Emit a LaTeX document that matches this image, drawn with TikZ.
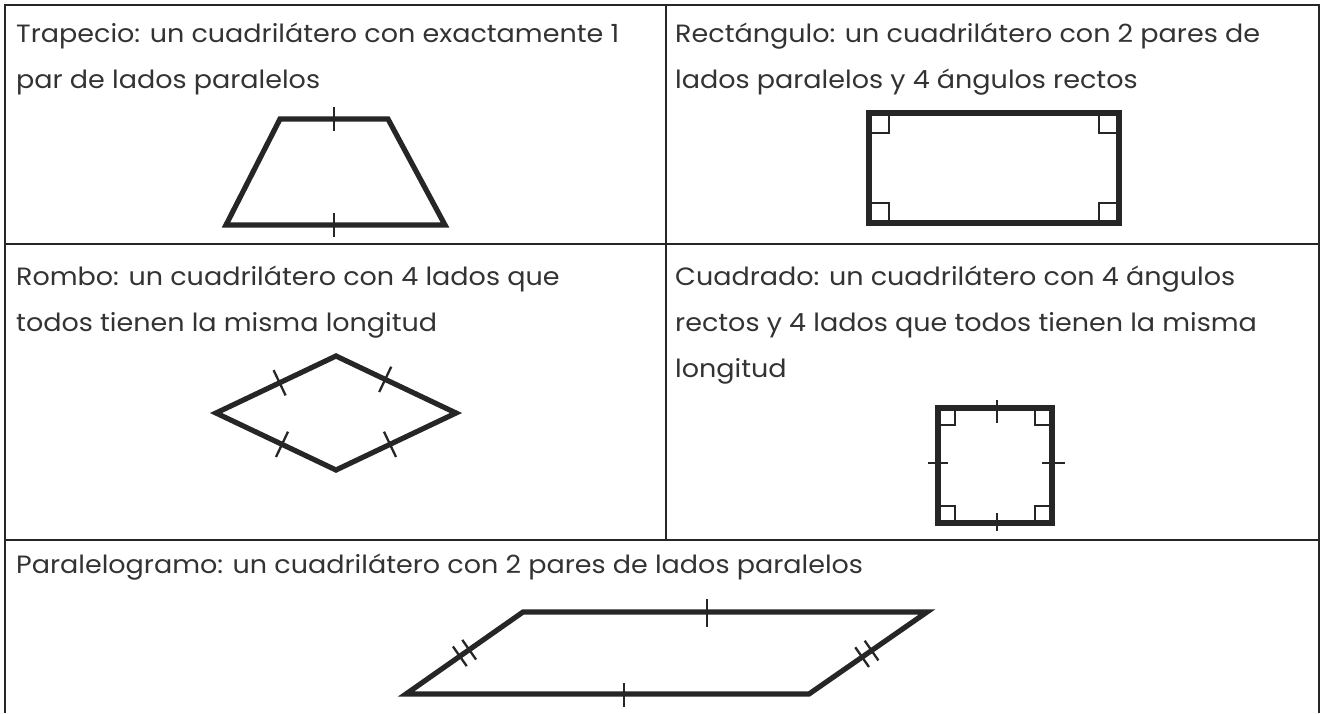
\documentclass[tikz,border=0pt]{standalone}
\usepackage{fontspec}
\setmainfont{Poppins}[FakeStretch=1.08]
\usetikzlibrary{calc}
\definecolor{ink}{HTML}{262626}
\definecolor{txt}{HTML}{333333}
\begin{document}
\begin{tikzpicture}[x=1pt,y=-1pt,
  gridline/.style={draw=ink,line width=2.2pt},
  fig/.style={draw=ink,line width=5.2pt,line join=miter},
  tick/.style={draw=ink,line width=2.3pt},
  rmark/.style={draw=ink,line width=2.8pt},
  lbl/.style={anchor=base west,inner sep=0pt,text=txt,font=\fontsize{25}{30}\selectfont}]
\useasboundingbox (0,0) rectangle (1322,713);
\fill[white] (0,0) rectangle (1322,713);
% table
\draw[gridline] (5,713) -- (5,5) -- (1319,5) -- (1319,713);
\draw[gridline] (5,244) -- (1319,244);
\draw[gridline] (5,540) -- (1319,540);
\draw[gridline] (666,5) -- (666,540);
% texts
\node[lbl] (t1a) at (16,42) {Trapecio: un cuadrilátero con exactamente 1};
\node[lbl] (t1b) at (16,88) {par de lados paralelos};
\node[lbl] (t2a) at (675,42) {Rectángulo: un cuadrilátero con 2 pares de};
\node[lbl] (t2b) at (675,88) {lados paralelos y 4 ángulos rectos};
\node[lbl] (t3a) at (16,285) {Rombo: un cuadrilátero con 4 lados que};
\node[lbl] (t3b) at (16,331) {todos tienen la misma longitud};
\node[lbl] (t4a) at (675,285) {Cuadrado: un cuadrilátero con 4 ángulos};
\node[lbl] (t4b) at (675,331) {rectos y 4 lados que todos tienen la misma};
\node[lbl] (t4c) at (675,377) {longitud};
\node[lbl] (t5) at (16,573) {Paralelogramo: un cuadrilátero con 2 pares de lados paralelos};
% trapezoid
\coordinate (tz1) at (226,225);
\coordinate (tz2) at (445,225);
\coordinate (tz3) at (388,119);
\coordinate (tz4) at (280,119);
\draw[fig] (tz1) -- (tz2) -- (tz3) -- (tz4) -- cycle;
\draw[tick] (334,107) -- (334,131);
\draw[tick] (334,213) -- (334,237);
% rectangle
\coordinate (rc1) at (869,113);
\coordinate (rc2) at (1119,223);
\draw[fig] (rc1) rectangle (rc2);
\draw[rmark] (869,133) -| (889,113);
\draw[rmark] (1119,133) -| (1099,113);
\draw[rmark] (869,203) -| (889,223);
\draw[rmark] (1119,203) -| (1099,223);
% rhombus
\coordinate (r1) at (216,413);
\coordinate (r2) at (336,356);
\coordinate (r3) at (456,413);
\coordinate (r4) at (336,470);
\draw[fig] (r1) -- (r2) -- (r3) -- (r4) -- cycle;
\foreach \a/\b/\t in {r1/r2/0.53, r2/r3/0.41, r4/r1/0.45, r3/r4/0.55}{
  \path ($(\a)!\t!(\b)$) coordinate (m);
  \draw[tick] ($(m)!14pt!90:(\b)$) -- ($(m)!14pt!-90:(\b)$);
}
% square
\coordinate (s1) at (938,408);
\coordinate (s2) at (1052,523);
\draw[fig] (s1) rectangle (s2);
\draw[rmark] (938,425) -| (955,408);
\draw[rmark] (1052,425) -| (1035,408);
\draw[rmark] (938,506) -| (955,523);
\draw[rmark] (1052,506) -| (1035,523);
\draw[tick] (997,400) -- (997,423);
\draw[tick] (997,513) -- (997,531);
\draw[tick] (928,463) -- (948,463);
\draw[tick] (1042,463) -- (1065,463);
% parallelogram
\coordinate (p1) at (406,694);
\coordinate (p2) at (809,694);
\coordinate (p3) at (927,612);
\coordinate (p4) at (523,612);
\draw[fig] (p1) -- (p2) -- (p3) -- (p4) -- cycle;
\draw[tick] (707,599) -- (707,627);
\draw[tick] (624,683) -- (624,707);
\foreach \a/\b/\t in {p1/p4/0.46, p1/p4/0.54, p2/p3/0.45, p2/p3/0.53}{
  \path ($(\a)!\t!(\b)$) coordinate (m);
  \draw[tick] ($(m)!12pt!90:(\b)$) -- ($(m)!12pt!-90:(\b)$);
}
\end{tikzpicture}
\end{document}
